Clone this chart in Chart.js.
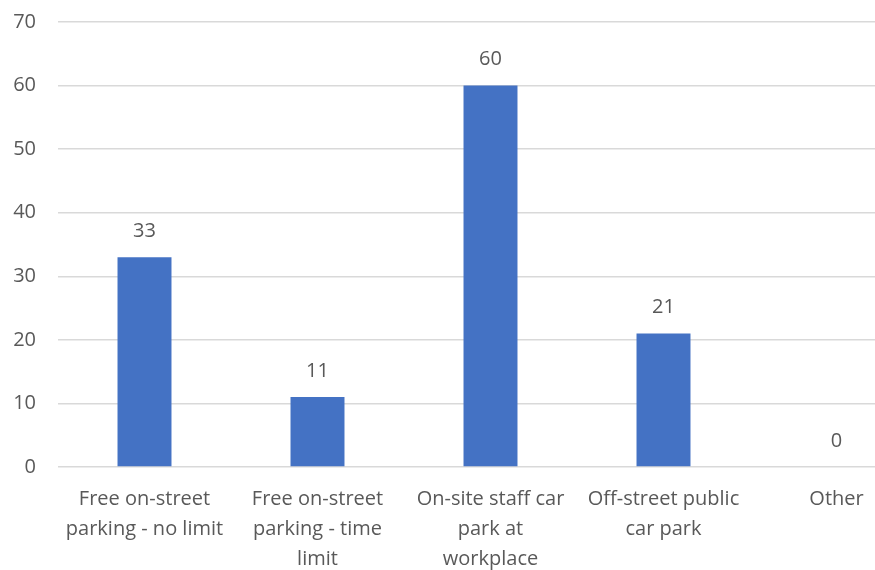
<!DOCTYPE html>
<html>
<head>
<meta charset="utf-8">
<script src="https://cdn.jsdelivr.net/npm/chart.js@4"></script>
<style>
  html, body { margin: 0; padding: 0; background: #fff; overflow: hidden; }
  #wrap { width: 932px; height: 570px; }
</style>
</head>
<body>
<div id="wrap"><canvas id="chart"></canvas></div>
<script>
const categories = [
  ['Free on-street', 'parking - no limit'],
  ['Free on-street', 'parking - time', 'limit'],
  ['On-site staff car', 'park at', 'workplace'],
  ['Off-street public', 'car park'],
  ['Other'],
];
const counts = [33, 11, 60, 21, 0];
const yTicks = [0, 10, 20, 30, 40, 50, 60, 70];

const textColor = '#595959';
const fontFamily = '"Open Sans", "Noto Sans", sans-serif';

// value labels above each bar
const barLabels = {
  id: 'barLabels',
  afterDatasetsDraw(chart) {
    const ctx = chart.ctx;
    const meta = chart.getDatasetMeta(0);
    ctx.save();
    ctx.fillStyle = textColor;
    ctx.font = `20px ${fontFamily}`;
    ctx.textAlign = 'center';
    ctx.textBaseline = 'middle';
    meta.data.forEach((bar, i) => {
      ctx.fillText(String(counts[i]), bar.x, bar.y - 26);
    });
    ctx.restore();
  },
};

new Chart(document.getElementById('chart'), {
  type: 'bar',
  data: {
    labels: categories,
    datasets: [{
      data: counts,
      backgroundColor: '#4472C4',
      barPercentage: 1,
      categoryPercentage: 0.312,
    }],
  },
  options: {
    responsive: true,
    maintainAspectRatio: false,
    animation: false,
    layout: { padding: { top: 22, right: 9, bottom: 0, left: 0 } },
    plugins: {
      legend: { display: false },
      tooltip: { enabled: false },
    },
    scales: {
      x: {
        grid: { display: false },
        border: { display: false },
        ticks: {
          color: textColor,
          font: { family: fontFamily, size: 20, lineHeight: 1.5 },
          maxRotation: 0,
          autoSkip: false,
          padding: 9,
        },
        afterFit: axis => { axis.height = 103; },
      },
      y: {
        min: 0,
        max: 70,
        afterBuildTicks: axis => { axis.ticks = yTicks.map(v => ({ value: v })); },
        grid: { color: '#d9d9d9', lineWidth: 1.5, drawTicks: false },
        border: { display: false },
        ticks: {
          color: textColor,
          font: { family: fontFamily, size: 20 },
          padding: 22,
        },
        afterFit: axis => {
          axis.width = 58;
          axis.paddingTop = 0;
          axis.paddingBottom = 0;
        },
      },
    },
  },
  plugins: [barLabels],
});
</script>
</body>
</html>
